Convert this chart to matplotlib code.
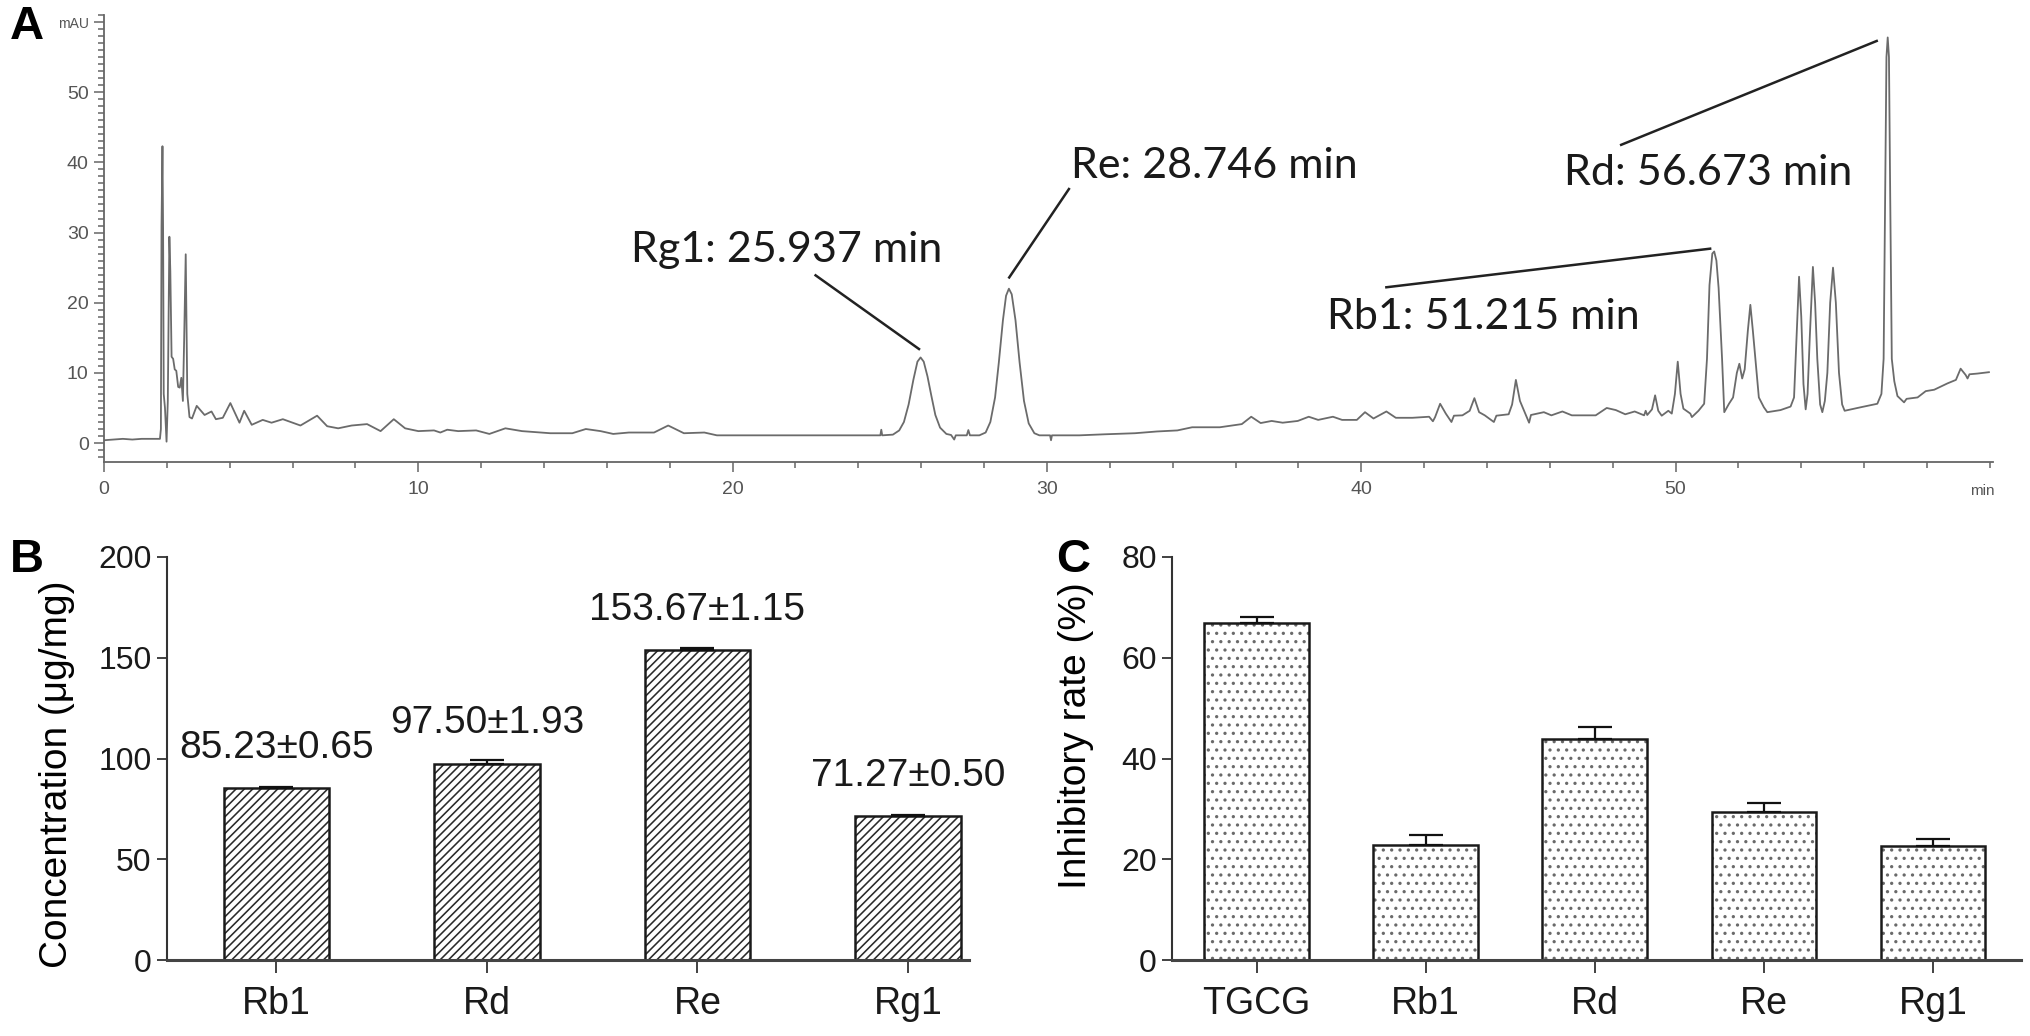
"""
Ginsenoside figure: HPLC chromatogram (A), content bars (B), inhibitory rate bars (C)
"""

import matplotlib
matplotlib.use("Agg")
import matplotlib.pyplot as plt
from matplotlib.ticker import MultipleLocator

# ---- data -------------------------------------------------------------
# chromatogram trace (min, mAU)
rt_min = [
    0.00, 0.30, 0.60, 0.90, 1.20, 1.50, 1.78,
    1.81, 1.83, 1.86, 1.88, 1.90, 1.94, 1.99,
    2.03, 2.08, 2.11, 2.15, 2.20, 2.25, 2.30, 2.36, 2.41, 2.46, 2.51, 2.55, 2.60, 2.62, 2.65, 2.72, 2.80,
    2.95, 3.20, 3.42, 3.56, 3.78, 4.02, 4.31, 4.46, 4.70, 5.05, 5.33, 5.69, 6.25, 6.78, 7.10, 7.45, 7.88,
    8.37, 8.80, 9.22, 9.58,
    10.0, 10.5, 10.7, 10.92, 11.27, 11.84, 12.26, 12.77, 13.3, 14.2, 14.9, 15.33, 15.8, 16.2, 16.7, 17.5,
    17.95, 18.45, 19.1, 19.5, 22.0, 24.7, 24.73, 24.76, 25.1,
    25.3, 25.45, 25.6, 25.75, 25.88, 25.98, 26.08, 26.2, 26.32, 26.45, 26.6, 26.8, 26.95, 27.05, 27.1,
    27.45, 27.5, 27.55, 27.85,
    28.05, 28.2, 28.35, 28.47, 28.6, 28.7, 28.79, 28.88, 29.0, 29.13, 29.27, 29.42, 29.6, 29.76, 30.1,
    30.13, 30.16, 31.03,
    31.85, 32.8, 33.5, 34.15, 34.62, 35.5, 36.2, 36.5, 36.8, 37.15, 37.5, 37.98, 38.33, 38.63, 39.1,
    39.39, 39.86, 40.12, 40.39, 40.8, 41.1, 41.63, 42.16, 42.28, 42.35, 42.51, 42.69, 42.87, 42.95,
    43.22, 43.45, 43.6, 43.75, 43.93, 44.22, 44.3, 44.69, 44.8, 44.92, 45.05, 45.22, 45.34, 45.4,
    45.81, 46.05, 46.4, 46.7, 47.46, 47.81, 48.1, 48.4, 48.7, 49.0, 49.05, 49.1,
    49.25, 49.35, 49.45, 49.56, 49.77, 49.88, 49.98, 50.07, 50.16, 50.25, 50.47, 50.52, 50.73, 50.91,
    51.0, 51.08, 51.17, 51.23, 51.3, 51.37, 51.48, 51.55, 51.7, 51.83, 51.95, 52.03, 52.12, 52.2,
    52.3, 52.38, 52.46, 52.54, 52.65, 52.81, 52.92, 53.34, 53.66, 53.77, 53.85, 53.93, 54.0, 54.07,
    54.14, 54.2, 54.27, 54.37, 54.44, 54.51, 54.6, 54.67, 54.75, 54.83, 54.92, 55.01, 55.1, 55.2,
    55.3, 55.38, 55.89, 56.42, 56.55, 56.62, 56.67, 56.71, 56.75, 56.79, 56.83, 56.88, 56.96,
    57.06, 57.27, 57.35, 57.7, 57.96, 58.23, 58.65, 58.92, 59.07, 59.23, 59.29, 59.35, 59.6, 59.97,
]
mau = [
    0.4, 0.5, 0.6, 0.5, 0.6, 0.6, 0.6,
    2.0, 30.8, 42.3, 30.5, 7.0, 5.0, 0.2,
    6.0, 29.4, 24.5, 12.3, 12.0, 10.5, 10.3, 8.0, 7.9, 9.3, 6.0, 14.7, 26.9, 19.0, 7.0, 3.7, 3.5,
    5.3, 4.0, 4.5, 3.4, 3.6, 5.7, 2.9, 4.6, 2.6, 3.3, 2.9, 3.4, 2.5, 3.9, 2.4, 2.1, 2.5,
    2.7, 1.7, 3.4, 2.1,
    1.7, 1.8, 1.5, 1.9, 1.7, 1.8, 1.3, 2.1, 1.7, 1.4, 1.4, 2.0, 1.7, 1.3, 1.5, 1.5,
    2.5, 1.4, 1.5, 1.1, 1.1, 1.1, 1.9, 1.1, 1.2,
    1.8, 3.0, 5.5, 9.0, 11.6, 12.2, 11.6, 9.5, 6.8, 4.0, 2.2, 1.3, 1.15, 0.5, 1.1,
    1.1, 1.85, 1.1, 1.1,
    1.5, 3.0, 6.5, 11.5, 17.5, 21.0, 22.0, 21.2, 17.5, 11.5, 6.0, 2.8, 1.4, 1.1, 1.1,
    0.4, 1.1, 1.1,
    1.25, 1.4, 1.65, 1.8, 2.25, 2.25, 2.7, 3.75, 2.85, 3.15, 2.9, 3.15, 3.75, 3.3, 3.75,
    3.3, 3.3, 4.4, 3.5, 4.5, 3.6, 3.6, 3.75, 3.1, 3.7, 5.6, 4.2, 3.0, 3.9,
    3.95, 4.6, 6.4, 4.4, 3.95, 3.0, 3.9, 4.1, 5.5, 9.0, 6.0, 4.2, 2.9, 4.0,
    4.4, 3.95, 4.5, 3.95, 3.95, 5.0, 4.7, 4.1, 4.5, 3.95, 4.6, 4.0,
    4.8, 6.8, 4.6, 3.9, 4.6, 4.2, 7.0, 11.6, 7.0, 4.9, 4.2, 3.7, 4.6, 5.6,
    12.0, 22.5, 27.0, 27.3, 26.0, 22.1, 12.0, 4.4, 5.6, 6.5, 10.0, 11.3, 9.2, 10.5,
    16.0, 19.7, 16.0, 12.0, 6.5, 5.1, 4.4, 4.7, 5.2, 6.5, 15.0, 23.7, 18.0, 8.4,
    4.8, 7.0, 15.0, 25.1, 20.0, 12.0, 5.5, 4.4, 6.0, 10.0, 20.0, 25.0, 20.0, 10.0,
    5.5, 4.6, 5.1, 5.6, 7.0, 12.0, 35.0, 55.0, 57.8, 55.0, 35.0, 12.0, 8.8,
    6.7, 5.8, 6.3, 6.5, 7.4, 7.6, 8.5, 9.0, 10.6, 9.7, 9.2, 9.8, 9.9, 10.1,
]

# labelled peaks
peak_labels = ["Rg1: 25.937 min", "Re: 28.746 min", "Rb1: 51.215 min", "Rd: 56.673 min"]

# panel B: content
compounds = ["Rb1", "Rd", "Re", "Rg1"]
conc = [85.23, 97.50, 153.67, 71.27]
conc_sd = [0.65, 1.93, 1.15, 0.50]

# panel C: inhibitory rate
groups = ["TGCG", "Rb1", "Rd", "Re", "Rg1"]
inhib = [66.8, 22.9, 43.8, 29.3, 22.6]
inhib_sd = [1.3, 2.0, 2.4, 1.9, 1.4]

# ---- layout -----------------------------------------------------------
W, H = 2031, 1036
plt.rcParams['hatch.linewidth'] = 1.15
fig = plt.figure(figsize=(W / 100, H / 100), dpi=100)

narrow = ['Liberation Sans Narrow', 'Liberation Sans', 'DejaVu Sans']
arial = ['Liberation Sans', 'DejaVu Sans']
calib = ['Lato', 'DejaVu Sans']

# ---- panel A ----------------------------------------------------------
axA = fig.add_axes([104 / W, 1 - 462 / H, (1993 - 104) / W, (462 - 15) / H])
axA.plot(rt_min, mau, color='#6b6b6b', lw=1.3)
axA.set_xlim(0, 60.1)
axA.set_ylim(-2.7, 61)
for s in ['top', 'right']:
    axA.spines[s].set_visible(False)
for s in ['left', 'bottom']:
    axA.spines[s].set_color('#666666')
    axA.spines[s].set_linewidth(1.3)
axA.set_xticks([0, 10, 20, 30, 40, 50])
axA.xaxis.set_minor_locator(MultipleLocator(2))
axA.set_yticks([0, 10, 20, 30, 40, 50, 60])
axA.set_yticklabels(['0', '10', '20', '30', '40', '50', 'mAU'])
axA.yaxis.set_minor_locator(MultipleLocator(1))
axA.tick_params(which='both', colors='#666666', width=1.1)
axA.tick_params(which='major', length=7, labelsize=14, labelcolor='#555555')
axA.tick_params(axis='x', which='major', pad=7)
axA.tick_params(axis='y', which='major', pad=4)
axA.tick_params(which='minor', length=4)
for lab in axA.get_xticklabels() + axA.get_yticklabels():
    lab.set_family(narrow)
axA.get_yticklabels()[-1].set_fontsize(10)
axA.text(59.75, -2.7 - 3.1, 'min', ha='center', va='top', fontsize=11,
         color='#555555', family=narrow)

text_pos = [(16.76, 27.5), (30.78, 39.5), (38.92, 17.9), (46.45, 38.5)]
line_pos = [((22.64, 23.9), (25.93, 13.4)),
            ((30.7, 36.2), (28.8, 23.6)),
            ((40.8, 22.2), (51.1, 27.7)),
            ((48.27, 42.5), (56.4, 57.3))]
for lab, (tx, ty), (p0, p1) in zip(peak_labels, text_pos, line_pos):
    axA.text(tx, ty, lab, ha='left', va='center', fontsize=31, color='#1a1a1a',
             family=calib)
    axA.plot([p0[0], p1[0]], [p0[1], p1[1]], color='#222222', lw=1.8)

# ---- panel B ----------------------------------------------------------
axB = fig.add_axes([167 / W, 1 - 960 / H, (969 - 167) / W, (960 - 557) / H])
xb = list(range(len(compounds)))
axB.bar(xb, conc, width=0.5, color='white', edgecolor='#2a2a2a', linewidth=0,
        hatch='////', zorder=2)
axB.bar(xb, conc, width=0.5, color='none', edgecolor='#1a1a1a', linewidth=1.8, zorder=2)
axB.errorbar(xb, conc, yerr=[[0] * len(conc), conc_sd], fmt='none', ecolor='#111111',
             elinewidth=1.6, capsize=12, capthick=1.6, zorder=3)
for x, v, sd in zip(xb, conc, conc_sd):
    axB.text(x, v + 20, f"{v:.2f}±{sd:.2f}", ha='center', va='center', fontsize=28,
             family=arial, color='#1a1a1a')
axB.set_xlim(-0.52, 3.29)
axB.set_ylim(0, 200)
axB.set_yticks([0, 50, 100, 150, 200])
axB.set_xticks(xb)
axB.set_xticklabels(compounds)
axB.set_ylabel('Concentration (μg/mg)', fontsize=28, family=arial)
axB.yaxis.set_label_coords(-0.115, 0.46)

# ---- panel C ----------------------------------------------------------
axC = fig.add_axes([1172 / W, 1 - 960 / H, (2021 - 1172) / W, (960 - 557) / H])
xc = list(range(len(groups)))
axC.bar(xc, inhib, width=0.62, color='white', edgecolor='#6a6a6a', linewidth=0,
        hatch='..', zorder=2)
axC.bar(xc, inhib, width=0.62, color='none', edgecolor='#1a1a1a', linewidth=1.8, zorder=2)
axC.errorbar(xc, inhib, yerr=[[0] * len(inhib), inhib_sd], fmt='none', ecolor='#111111',
             elinewidth=1.6, capsize=12, capthick=1.6, zorder=3)
axC.set_xlim(-0.5, 4.52)
axC.set_ylim(0, 80)
axC.set_yticks([0, 20, 40, 60, 80])
axC.set_xticks(xc)
axC.set_xticklabels(groups)
axC.set_ylabel('Inhibitory rate (%)', fontsize=28, family=arial)
axC.yaxis.set_label_coords(-0.092, 0.556)

for ax in (axB, axC):
    for s in ['top', 'right']:
        ax.spines[s].set_visible(False)
    ax.spines['left'].set_color('#333333')
    ax.spines['left'].set_linewidth(1.5)
    ax.spines['bottom'].set_color('#444444')
    ax.spines['bottom'].set_linewidth(2.2)
    ax.tick_params(axis='y', length=7, width=1.3, color='#333333', labelsize=23, pad=4)
    ax.tick_params(axis='x', length=9, width=1.3, color='#333333', labelsize=27, pad=10)
    for lab in ax.get_xticklabels() + ax.get_yticklabels():
        lab.set_family(arial)
        lab.set_color('#1a1a1a')

# panel letters
for lab, (px, py) in zip(['A', 'B', 'C'], [(10, 27), (10, 560), (1056, 560)]):
    fig.text(px / W, 1 - py / H, lab, fontsize=34, fontweight='bold', family=arial,
             ha='left', va='center')

fig.savefig('out.png', dpi=100)
